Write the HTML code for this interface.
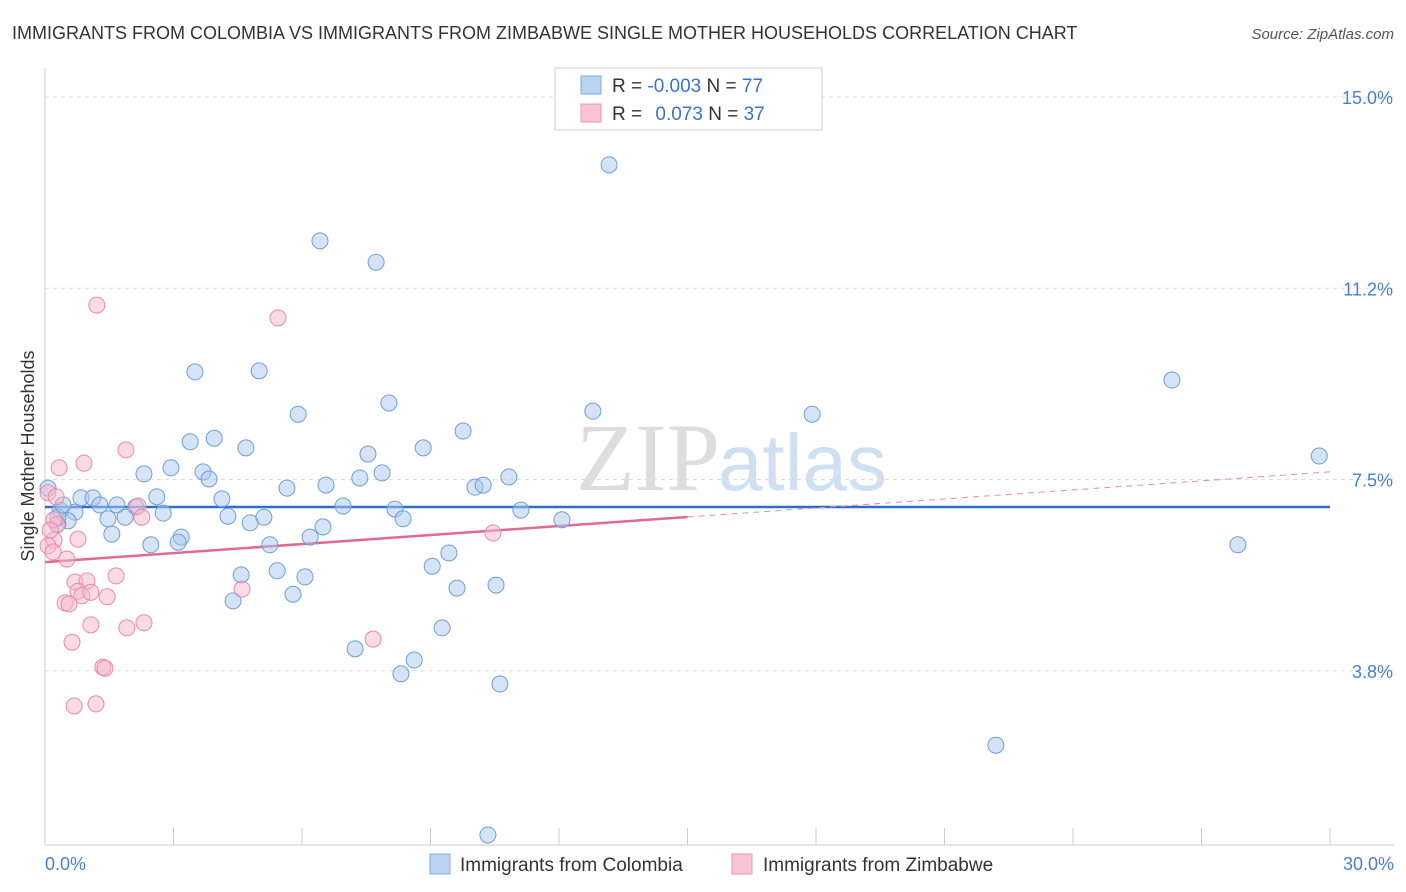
<!DOCTYPE html>
<html><head><meta charset="utf-8">
<style>
body{margin:0;background:#fff;font-family:"Liberation Sans",sans-serif;}
svg{display:block}
</style></head>
<body>
<svg id="chart" width="1406" height="892" xmlns="http://www.w3.org/2000/svg">
<text x="12" y="39" font-size="18" fill="#333">IMMIGRANTS FROM COLOMBIA VS IMMIGRANTS FROM ZIMBABWE SINGLE MOTHER HOUSEHOLDS CORRELATION CHART</text>
<text x="1394" y="39" font-size="15" fill="#555" font-style="italic" text-anchor="end">Source: ZipAtlas.com</text>
<text x="720" y="490" font-size="96" fill="#ddd" text-anchor="end" font-family="Liberation Serif,serif">ZIP</text>
<text x="718" y="490" font-size="80" fill="#cfe0f3">atlas</text>
<g id="grid"></g><g id="axes"></g><g id="trends"></g><g id="pts"></g>
<text transform="translate(34,456) rotate(-90)" font-size="18" fill="#333" text-anchor="middle">Single Mother Households</text>
<text x="45" y="870" font-size="18" fill="#4a7fd0">0.0%</text>
<text x="1394" y="870" font-size="18" fill="#4a7fd0" text-anchor="end">30.0%</text>
<g>
<rect x="555" y="68" width="267" height="62" fill="#fff" stroke="#ccc"/>
<rect x="581" y="76" width="20" height="18" fill="#b9d3f3" stroke="#7fa8dd"/>
<rect x="581" y="104" width="20" height="18" fill="#f8c4d4" stroke="#ea9ab3"/>
<text x="612" y="92" font-size="19" fill="#333">R = <tspan fill="#3a72cc">-0.003</tspan>   N = <tspan fill="#3a72cc">77</tspan></text>
<text x="612" y="120" font-size="19" fill="#333">R = <tspan fill="#3a72cc" dx="8">0.073</tspan>   N = <tspan fill="#3a72cc">37</tspan></text>
</g>
<g>
<rect x="430" y="854" width="20" height="20" fill="#b9d3f3" stroke="#7fa8dd"/>
<text x="460" y="871" font-size="19" fill="#333">Immigrants from Colombia</text>
<rect x="732" y="854" width="20" height="20" fill="#f8c4d4" stroke="#ea9ab3"/>
<text x="763" y="871" font-size="19" fill="#333">Immigrants from Zimbabwe</text>
</g>
</svg>
<script>
const yTicks=[15.0,11.25,7.5,3.75];
const yTickLabels=["15.0%","11.2%","7.5%","3.8%"];
const xTicks=[0,3,6,9,12,15,18,21,24,27,30];
const blueX=[13.17,6.42,7.73,3.50,5.00,26.31,8.03,5.91,12.79,17.91,9.76,3.39,3.95,4.69,8.83,7.54,29.75,2.31,2.94,3.69,3.83,7.87,7.35,10.83,10.04,10.23,5.65,6.56,2.61,4.13,0.84,1.12,1.68,1.28,2.12,6.96,8.17,11.11,0.35,0.70,2.76,4.27,5.11,1.87,1.47,8.36,12.07,0.54,4.79,0.30,6.49,1.56,6.19,3.18,3.11,2.47,5.25,27.85,9.43,9.04,5.42,4.58,6.07,10.53,9.62,5.79,4.39,9.27,7.24,8.62,8.31,10.62,22.20,10.34,0.07,0.30,0.42];
const blueY=[13.67,12.18,11.76,9.61,9.63,9.45,9.00,8.78,8.84,8.78,8.45,8.24,8.31,8.12,8.12,8.00,7.96,7.61,7.73,7.65,7.51,7.63,7.53,7.55,7.35,7.39,7.33,7.39,7.16,7.12,7.14,7.14,7.00,7.00,6.96,6.98,6.92,6.90,6.90,6.86,6.84,6.78,6.76,6.76,6.73,6.73,6.71,6.69,6.65,6.63,6.57,6.43,6.37,6.37,6.27,6.22,6.22,6.22,6.06,5.80,5.71,5.63,5.59,5.43,5.37,5.25,5.12,4.59,4.18,3.96,3.69,3.49,2.29,0.53,7.33,6.76,7.00];
const pinkX=[1.21,5.44,1.89,0.91,0.33,0.07,0.26,2.17,2.26,0.28,10.46,0.21,0.77,0.07,0.19,0.51,1.66,0.70,0.98,0.77,0.86,1.07,1.45,0.47,0.56,4.60,2.31,1.07,1.91,7.66,0.63,1.35,1.40,0.68,1.19,0.21,0.12];
const pinkY=[10.92,10.67,8.08,7.82,7.73,7.24,7.16,6.98,6.76,6.61,6.45,6.31,6.33,6.20,6.08,5.94,5.61,5.49,5.51,5.31,5.22,5.29,5.20,5.08,5.06,5.35,4.69,4.65,4.59,4.37,4.31,3.82,3.80,3.06,3.10,6.71,6.51];
const blueTrend=[6.96,6.96];
const pinkTrend=[5.88,7.65];
const xs=v=>45+v*(1285/30);
const ys=v=>97+(15-v)*51;
const NS="http://www.w3.org/2000/svg";
function mk(t,a,p){const e=document.createElementNS(NS,t);for(const k in a)e.setAttribute(k,a[k]);p.appendChild(e);return e;}
const grid=document.getElementById('grid'),axes=document.getElementById('axes'),tr=document.getElementById('trends'),pts=document.getElementById('pts');
yTicks.forEach((v,i)=>{
 const l=mk('line',{x1:45,x2:1394,y1:ys(v),y2:ys(v),stroke:'#ddd','stroke-dasharray':'4,4'},grid);
 
 
 const t=mk('text',{x:1393,y:ys(v)+7,'font-size':18,fill:'#4a7fd0','text-anchor':'end'},grid);
 t.textContent=yTickLabels[i];
 
 
});
const ya=mk('line',{x1:45,x2:45,y1:68,y2:845,stroke:'#ccc'},axes);


const xa=mk('line',{x1:45,x2:1394,y1:845,y2:845,stroke:'#ccc'},axes);


xTicks.forEach(v=>{
 const t=mk('line',{x1:xs(v),x2:xs(v),y1:828,y2:845,stroke:'#ccc'},axes);
 
 
});
function dots(X,Y,fill,stroke,name){
 X.forEach((x,i)=>{
  const c=mk('circle',{cx:xs(x),cy:ys(Y[i]),r:8,fill:fill,'fill-opacity':0.5,stroke:stroke,'stroke-width':1},pts);
  
  
 });
}
dots(blueX,blueY,'#a9c8ee','#6f9fd8','colombia-point');
dots(pinkX,pinkY,'#f5b8cb','#e88aa8','zimbabwe-point');
const bt=mk('line',{x1:xs(0),x2:xs(30),y1:ys(blueTrend[0]),y2:ys(blueTrend[1]),stroke:'#2a6fd0','stroke-width':2.5},tr);


const pm=(pinkTrend[0]+pinkTrend[1])/2;
const ps=mk('line',{x1:xs(0),x2:xs(15),y1:ys(pinkTrend[0]),y2:ys(pm),stroke:'#e06a96','stroke-width':2.5},tr);


const pd=mk('line',{x1:xs(15),x2:xs(30),y1:ys(pm),y2:ys(pinkTrend[1]),stroke:'#e88aa8','stroke-width':1,'stroke-dasharray':'6,5'},tr);


</script>
</body></html>
